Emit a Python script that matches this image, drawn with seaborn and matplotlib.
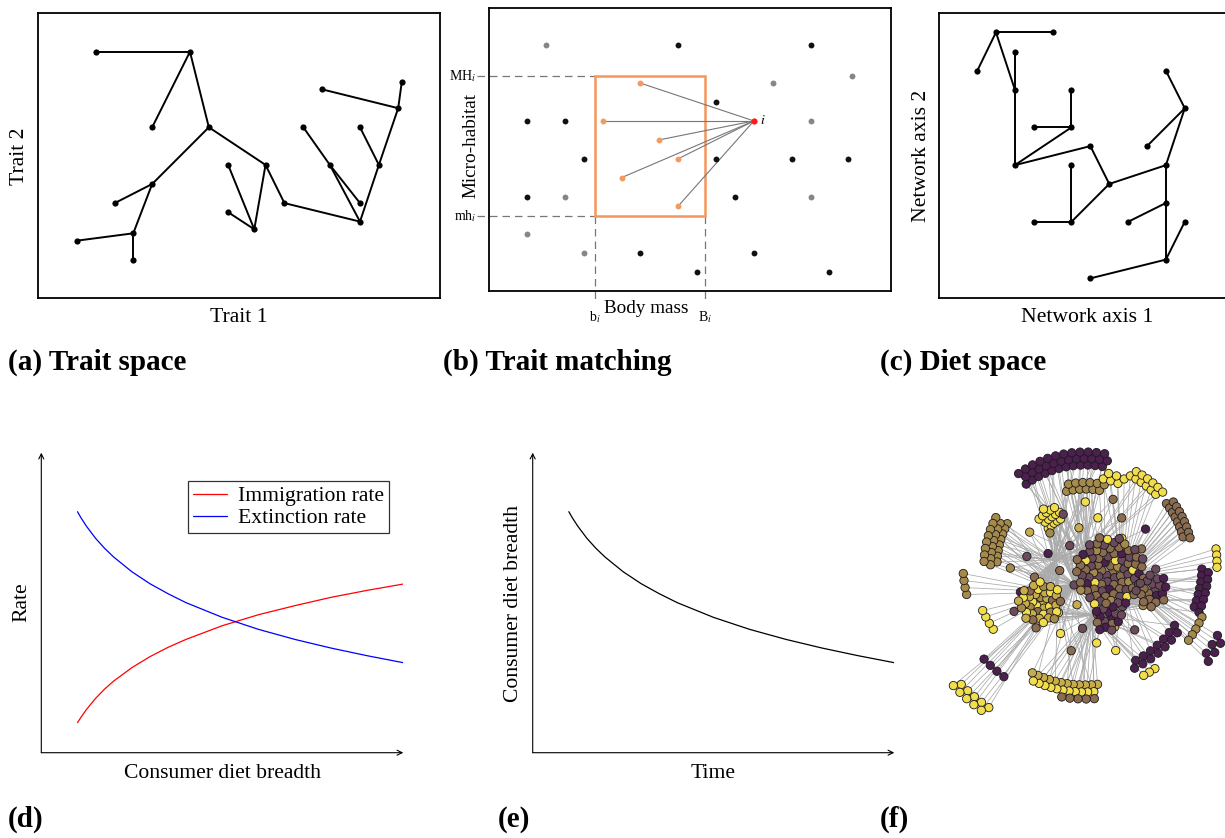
import numpy as np
import pandas as pd
import matplotlib
matplotlib.use("Agg")
import matplotlib.pyplot as plt
import seaborn as sns
from matplotlib.collections import LineCollection
from matplotlib.patches import Rectangle

# ---------------- (a) Trait space ----------------
trait1 = [1.44, 3.78, 2.84, 4.25, 2.84, 1.91, 2.37, 0.96, 2.37, 5.66, 4.73, 4.73,
          5.38, 6.13, 8.01, 6.60, 7.26, 8.01, 8.01, 8.48, 8.96, 7.07, 9.05]
trait2 = [8.64, 8.64, 5.99, 5.99, 4.00, 3.33, 2.27, 2.01, 1.34, 4.67, 4.67, 3.01,
          2.41, 3.33, 2.68, 5.99, 4.67, 3.33, 5.99, 4.67, 6.66, 7.32, 7.59]
trait_edges = [(0, 1), (1, 2), (1, 3), (3, 4), (4, 5), (4, 6), (6, 7), (6, 8), (3, 9),
               (9, 12), (10, 12), (11, 12), (9, 13), (13, 14), (15, 16), (16, 17),
               (16, 14), (14, 19), (18, 19), (19, 20), (20, 21), (20, 22)]

# ---------------- (b) Trait matching ----------------
grey_mass = [3, 15, 19.2, 17, 2, 4, 5, 17]
grey_hab = [13, 11, 11.4, 9, 3, 5, 2, 5]
black_mass = [10, 17, 12, 2, 4, 5, 12, 16, 19, 2, 13, 8, 14, 11, 18]
black_hab = [13, 13, 10, 9, 9, 7, 7, 7, 7, 5, 5, 2, 2, 1, 1]
prey_mass = [8, 6, 9, 10, 7, 10]
prey_hab = [11, 9, 8, 7, 6, 4.5]
focal_mass, focal_hab = 14, 9
b_low, b_high = 5.59, 11.41
mh_low, mh_high = 3.97, 11.38

# ---------------- (c) Diet space ----------------
net1 = [1.41, 2.82, 0.945, 1.88, 1.88, 1.88, 2.35, 3.29, 3.29, 3.76, 4.23, 3.29,
        3.29, 2.35, 5.64, 6.11, 5.64, 5.17, 5.64, 4.70, 5.64, 6.11, 3.76]
net2 = [9.33, 9.33, 7.98, 8.65, 7.32, 4.66, 5.99, 5.99, 7.32, 5.33, 4.00, 4.66,
        2.67, 2.67, 4.66, 6.66, 7.98, 5.33, 3.33, 2.67, 1.34, 2.67, 0.68]
diet_edges = [(0, 1), (0, 2), (0, 4), (3, 4), (4, 5), (5, 7), (6, 7), (7, 8), (5, 9),
              (9, 10), (10, 12), (12, 13), (12, 11), (10, 14), (14, 15), (15, 16),
              (15, 17), (14, 18), (18, 19), (18, 20), (20, 21), (20, 22)]

# ---------------- (d) Rates ----------------
breadth = [1.0, 1.1, 1.25, 1.5, 1.75, 2.0, 2.5, 3.0, 3.5, 4.0, 5.0, 6.0, 7.0, 8.0, 9.0, 10.0]
immigration = [0.90, 1.07, 1.30, 1.63, 1.91, 2.15, 2.55, 2.88, 3.16, 3.40, 3.81, 4.14,
               4.41, 4.66, 4.87, 5.06]
extinction = [7.23, 7.04, 6.79, 6.43, 6.13, 5.87, 5.43, 5.07, 4.77, 4.50, 4.06, 3.70,
              3.40, 3.14, 2.91, 2.70]

# ---------------- (e) Diet breadth over time ----------------
time_pts = [1.0, 1.1, 1.25, 1.5, 1.75, 2.0, 2.5, 3.0, 3.5, 4.0, 5.0, 6.0, 7.0, 8.0, 9.0, 10.0]
breadth_time = [7.23, 7.04, 6.79, 6.43, 6.13, 5.87, 5.43, 5.07, 4.77, 4.50, 4.06, 3.70,
                3.40, 3.14, 2.91, 2.70]

# ---------------- (f) Network ----------------
P, MV, BR, TN, GD, YL = "#4b1f4e", "#6b4a5c", "#8c6c4f", "#a68a4b", "#c8ab4a", "#f2dd4c"
net_center = (1085, 565)
hub_x = [1085, 1058, 1122, 1092, 1055, 1075, 1105]
hub_y = [558, 592, 578, 615, 560, 585, 600]
# angle start, angle end, inner radius, rows, nodes per row, colour, hubs
periph_groups = [
    (-126, -80, 100, 3, 12, P, [0, 4, 5]),
    (-104, -79, 76, 2, 6, TN, [0, 6]),
    (-78, -68, 88, 2, 3, YL, [2]),
    (-63, -45, 100, 2, 6, YL, [2, 0]),
    (-37, -16, 102, 2, 8, BR, [2, 6]),
    (-152, -178, 88, 3, 8, TN, [1, 4, 5]),
    (-135, -118, 52, 3, 5, YL, [1, 5]),
    (166, 176, 122, 1, 4, TN, [1]),
    (145, 156, 112, 1, 4, YL, [1]),
    (124, 136, 172, 2, 5, YL, [1, 5]),
    (126, 137, 138, 1, 4, P, [1]),
    (84, 116, 120, 1, 12, GD, [3, 1, 5]),
    (86, 114, 127, 1, 11, YL, [3, 6]),
    (86, 100, 134, 1, 5, BR, [3]),
    (56, 62, 125, 1, 3, YL, [3]),
    (2, 21, 117, 2, 7, P, [2, 6]),
    (-7, 1, 132, 1, 4, YL, [2]),
    (34, 62, 108, 2, 7, P, [3, 2, 6]),
    (24, 36, 128, 1, 5, TN, [2]),
    (28, 36, 150, 2, 3, P, [2]),
]
# centre x, centre y, radius, count, colour cycle
blob_groups = [
    (1085, 575, 82, 46, [YL, MV, TN, P, BR, YL, GD, MV, BR]),
    (1110, 572, 36, 85, [BR, MV, BR, MV, BR, TN, MV, P, BR, MV, YL, BR]),
    (1040, 603, 22, 40, [GD, YL, TN, GD, YL, GD, BR]),
    (1108, 618, 15, 16, [P, MV, P, BR, P, MV]),
    (1152, 590, 17, 20, [MV, BR, MV, P, BR]),
]

# ================= figure =================
sns.set_theme(style="white")
plt.rcParams["font.family"] = ["Liberation Serif", "DejaVu Serif"]
plt.rcParams["mathtext.fontset"] = "stix"
plt.rcParams["text.color"] = "black"
plt.rcParams["axes.labelcolor"] = "black"

W, H = 1225, 838
fig = plt.figure(figsize=(W / 100, H / 100), dpi=100)


def axes_px(l, t, r, b):
    return fig.add_axes([l / W, 1 - b / H, (r - l) / W, (b - t) / H])


def ftext(px, py, s, **kw):
    fig.text(px / W, 1 - py / H, s, color="black", **kw)


def box_style(ax, lw=1.3):
    ax.set_xticks([])
    ax.set_yticks([])
    for sp in ax.spines.values():
        sp.set_color("black")
        sp.set_linewidth(lw)
        sp.set_visible(True)


LAB = 15.6
CAP = 21

# ---- (a)
axa = axes_px(38, 13, 440, 298)
segs = [[(trait1[i], trait2[i]), (trait1[j], trait2[j])] for i, j in trait_edges]
axa.add_collection(LineCollection(segs, colors="black", linewidths=1.4, zorder=1))
sns.scatterplot(x=trait1, y=trait2, color="black", s=20, edgecolor="black",
                linewidth=0, ax=axa, zorder=2)
axa.set_xlim(0, 10)
axa.set_ylim(0, 10)
box_style(axa)
ftext(239, 318, "Trait 1", fontsize=LAB, ha="center", va="center")
ftext(20, 156, "Trait 2", fontsize=LAB, ha="center", va="center", rotation=90)
ftext(8, 362, "(a) Trait space", fontsize=CAP, fontweight="bold", ha="left", va="center")

# ---- (b)
axb = axes_px(489.3, 8.3, 890.7, 291)
axb.set_xlim(0, 21.24)
axb.set_ylim(0, 14.96)
box_style(axb)
dash = dict(color="#777777", lw=0.9, ls=(0, (6, 4)), clip_on=False, zorder=1)
axb.plot([-0.67, b_low], [mh_high, mh_high], **dash)
axb.plot([-0.67, b_low], [mh_low, mh_low], **dash)
axb.plot([b_low, b_low], [mh_low, -0.63], **dash)
axb.plot([b_high, b_high], [mh_low, -0.63], **dash)
axb.add_patch(Rectangle((b_low, mh_low), b_high - b_low, mh_high - mh_low,
                        fill=False, edgecolor="#f5975a", lw=1.8, zorder=2))
segs_b = [[(focal_mass, focal_hab), (x, y)] for x, y in zip(prey_mass, prey_hab)]
axb.add_collection(LineCollection(segs_b, colors="#777777", linewidths=0.8, zorder=2))
sns.scatterplot(x=grey_mass, y=grey_hab, color="#868686", s=18, linewidth=0, ax=axb, zorder=3)
sns.scatterplot(x=black_mass, y=black_hab, color="#111111", s=18, linewidth=0, ax=axb, zorder=3)
sns.scatterplot(x=prey_mass, y=prey_hab, color="#f39a5e", s=18, linewidth=0, ax=axb, zorder=3)
sns.scatterplot(x=[focal_mass], y=[focal_hab], color="#ff1a1a", s=20, linewidth=0, ax=axb, zorder=4)
axb.text(focal_mass + 0.5, focal_hab, r"$i$", fontsize=10, ha="center", va="center")
axb.text(-0.70, mh_high, r"MH$_i$", fontsize=10, ha="right", va="center", clip_on=False)
axb.text(-0.70, mh_low, r"mh$_i$", fontsize=10, ha="right", va="center", clip_on=False)
axb.text(b_low, -1.38, r"b$_i$", fontsize=10, ha="center", va="center", clip_on=False)
axb.text(b_high, -1.38, r"B$_i$", fontsize=10, ha="center", va="center", clip_on=False)
axb.text(8.33, -0.95, "Body mass", fontsize=13.8, ha="center", va="center", clip_on=False)
ftext(470.7, 145, "Micro-habitat", fontsize=13.8, ha="center", va="center", rotation=90)
ftext(443, 362, "(b) Trait matching", fontsize=CAP, fontweight="bold", ha="left", va="center")

# ---- (c)
axc = axes_px(939.3, 13.3, 1235, 297.7)
segs_c = [[(net1[i], net2[i]), (net1[j], net2[j])] for i, j in diet_edges]
axc.add_collection(LineCollection(segs_c, colors="black", linewidths=1.4, zorder=1))
sns.scatterplot(x=net1, y=net2, color="black", s=20, linewidth=0, ax=axc, zorder=2)
axc.set_xlim(0, 7.36)
axc.set_ylim(0, 10)
box_style(axc)
ftext(1087, 318, "Network axis 1", fontsize=LAB, ha="center", va="center")
ftext(922, 156, "Network axis 2", fontsize=LAB, ha="center", va="center", rotation=90)
ftext(880, 362, "(c) Diet space", fontsize=CAP, fontweight="bold", ha="left", va="center")


def arrow_axes(ax, xmax, ymax):
    ax.set_xlim(0, xmax)
    ax.set_ylim(0, ymax)
    ax.axis("off")
    ap = dict(arrowstyle="->", lw=0.8, color="black", shrinkA=0, shrinkB=0,
              mutation_scale=9)
    ax.annotate("", xy=(xmax, 0), xytext=(0, 0), arrowprops=ap, annotation_clip=False)
    ax.annotate("", xy=(0, ymax), xytext=(0, 0), arrowprops=ap, annotation_clip=False)


# ---- (d)
axd = axes_px(41.3, 452.7, 403.3, 752.7)
df_d = pd.DataFrame({"breadth": breadth + breadth,
                     "rate": immigration + extinction,
                     "kind": ["Immigration rate"] * len(breadth) + ["Extinction rate"] * len(breadth)})
sns.lineplot(data=df_d, x="breadth", y="rate", hue="kind",
             palette={"Immigration rate": "#ff0000", "Extinction rate": "#0000ff"},
             lw=0.9, ax=axd, sort=True, estimator=None)
arrow_axes(axd, 10, 9)
leg = axd.legend(loc="upper right", bbox_to_anchor=(0.96, 0.905), fontsize=LAB,
                 frameon=True, fancybox=False, edgecolor="black", handlelength=1.6,
                 borderpad=0.22, labelspacing=0.1, handletextpad=0.5, borderaxespad=0)
leg.get_frame().set_linewidth(0.9)
for t in leg.get_texts():
    t.set_color("black")
ftext(222, 773, "Consumer diet breadth", fontsize=LAB, ha="center", va="center")
ftext(22, 602, "Rate", fontsize=LAB, ha="center", va="center", rotation=90)
ftext(8, 819, "(d)", fontsize=CAP, fontweight="bold", ha="left", va="center")

# ---- (e)
axe = axes_px(532.7, 452.7, 894.3, 752.7)
sns.lineplot(x=time_pts, y=breadth_time, color="black", lw=0.9, ax=axe, estimator=None)
arrow_axes(axe, 10, 9)
ftext(713, 773, "Time", fontsize=LAB, ha="center", va="center")
ftext(514, 603, "Consumer diet breadth", fontsize=LAB, ha="center", va="center", rotation=90)
ftext(498, 819, "(e)", fontsize=CAP, fontweight="bold", ha="left", va="center")

# ---- (f)
axf = axes_px(930, 430, 1240, 720)
xs, ys, cols, edges = [], [], [], []
cx, cy = net_center
for a0, a1, r0, rows, per, col, hubs in periph_groups:
    idx = 0
    for k in range(rows):
        r = r0 + k * 6.5
        angs = np.linspace(a0, a1, per)
        if k % 2 == 1 and per > 1:
            angs = angs + (a1 - a0) / (per - 1) / 2
        for a in np.deg2rad(angs):
            x, y = cx + r * np.cos(a), cy + r * np.sin(a)
            xs.append(x); ys.append(y); cols.append(col)
            h = hubs[idx % len(hubs)]
            edges.append([(x, y), (hub_x[h], hub_y[h])])
            idx += 1
golden = np.deg2rad(137.508)
for bx, by, R, n, cyc in blob_groups:
    for i in range(n):
        r = R * np.sqrt((i + 0.5) / n)
        a = i * golden
        x, y = bx + r * np.cos(a), by + r * np.sin(a)
        xs.append(x); ys.append(y); cols.append(cyc[i % len(cyc)])
        d = [(hx - x) ** 2 + (hy - y) ** 2 for hx, hy in zip(hub_x, hub_y)]
        order = np.argsort(d)
        for o in order[:3]:
            edges.append([(x, y), (hub_x[o], hub_y[o])])
axf.add_collection(LineCollection(edges, colors="#aaaaaa", linewidths=0.55, zorder=1))
palette = {c: c for c in set(cols)}
sns.scatterplot(x=xs, y=ys, hue=cols, palette=palette, s=36, edgecolor="#1a1a1a",
                linewidth=0.6, legend=False, ax=axf, zorder=2)
axf.set_xlim(930, 1240)
axf.set_ylim(720, 430)
axf.axis("off")
ftext(880, 819, "(f)", fontsize=CAP, fontweight="bold", ha="left", va="center")

fig.savefig("out.png", dpi=100)
